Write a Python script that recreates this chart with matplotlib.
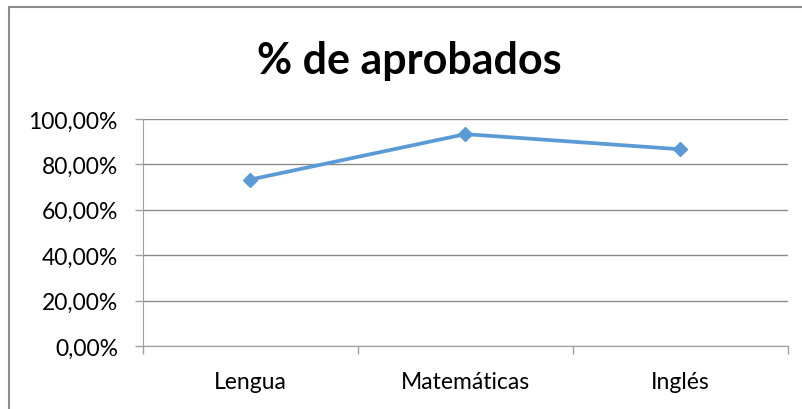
import matplotlib
matplotlib.use("Agg")
import matplotlib.pyplot as plt
from matplotlib.lines import Line2D
from matplotlib.ticker import FuncFormatter

asignaturas = ["Lengua", "Matemáticas", "Inglés"]
aprobados = [73.33, 93.33, 86.67]
y_ticks = [0, 20, 40, 60, 80, 100]

plt.rcParams['font.family'] = ['Lato', 'DejaVu Sans']

fig = plt.figure(figsize=(8.03, 4.10), dpi=100)
ax = fig.add_axes([0.178, 0.1537, 0.803, 0.5536])

x = list(range(len(asignaturas)))
ax.plot(x, aprobados, color='#5B9BD5', linewidth=2.7, marker='D', markersize=7.5, zorder=3)

ax.set_xlim(-0.5, len(asignaturas) - 0.5)
ax.set_ylim(0, 100)
ax.set_yticks(y_ticks)
ax.yaxis.set_major_formatter(FuncFormatter(lambda v, p: f"{v:.2f}%".replace('.', ',')))
ax.grid(axis='y', color='#8A8A8A', linewidth=1)
ax.set_axisbelow(True)

ax.set_xticks(x)
ax.set_xticklabels(asignaturas)
ax.set_xticks([i - 0.5 for i in range(len(asignaturas) + 1)], minor=True)
ax.tick_params(axis='x', which='major', length=0, pad=18, labelsize=16.5, colors='#000000')
ax.tick_params(axis='x', which='minor', length=6, color='#A0A0A0', width=1)
ax.tick_params(axis='y', length=6, color='#A0A0A0', width=1, pad=12, labelsize=16.5)

for s in ['top', 'right']:
    ax.spines[s].set_visible(False)
ax.spines['left'].set_color('#A0A0A0')
ax.spines['bottom'].set_color('#A0A0A0')

fig.text(0.51, 0.852, "% de aprobados", ha='center', va='center', fontsize=31, fontweight='bold')

# borde del área del gráfico (solo se ve arriba e izquierda)
fig.add_artist(Line2D([9.5 / 803, 9.5 / 803], [0, 1 - 7.5 / 410], transform=fig.transFigure,
                      color='#8C8C8C', linewidth=1.5))
fig.add_artist(Line2D([9.5 / 803, 1], [1 - 7.5 / 410, 1 - 7.5 / 410], transform=fig.transFigure,
                      color='#8C8C8C', linewidth=1.5))

fig.savefig("out.png", dpi=100)
